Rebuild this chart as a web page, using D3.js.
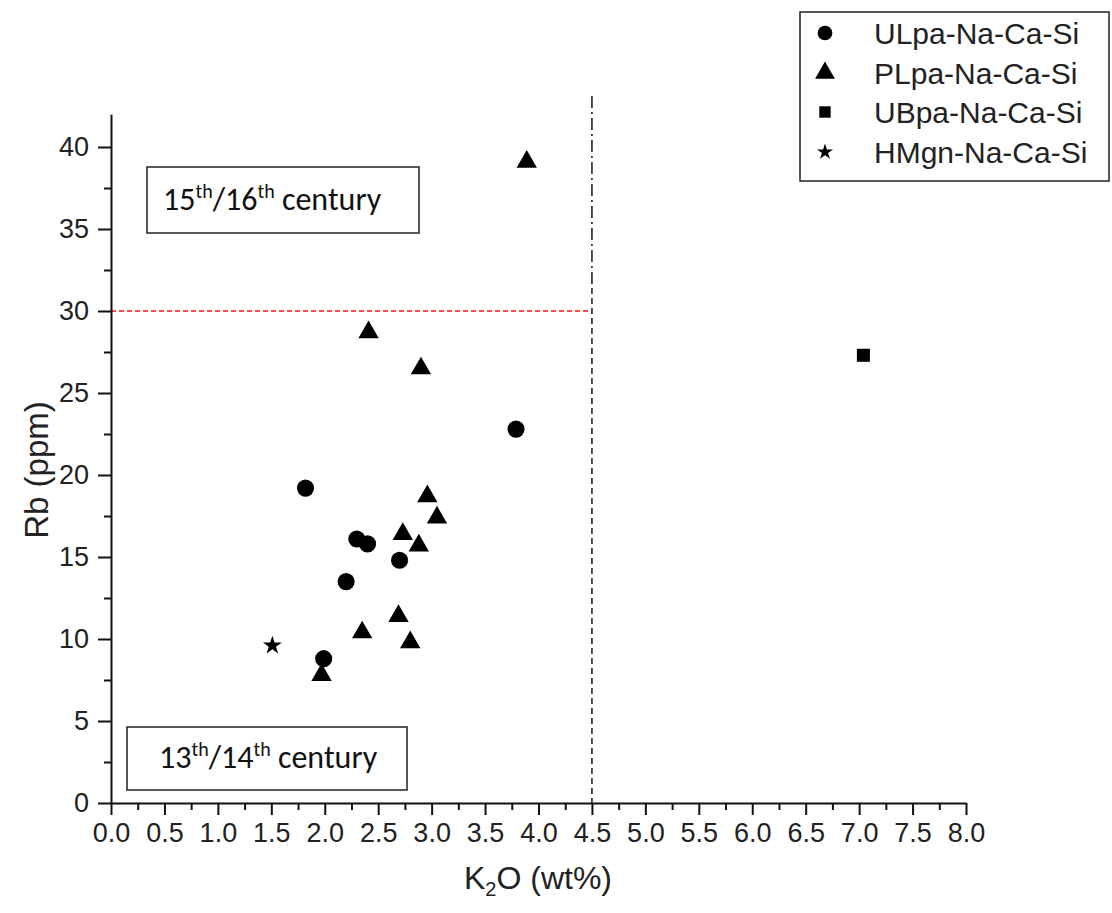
<!DOCTYPE html>
<html>
<head>
<meta charset="utf-8">
<script src="https://cdn.jsdelivr.net/npm/d3@7"></script>
<style>
  html, body { margin: 0; padding: 0; background: #fff; }
  svg { display: block; }
</style>
</head>
<body>
<svg id="chart" width="1112" height="913"></svg>
<script>
// ---- data ----
const ulpa = [[1.82, 19.2], [3.79, 22.8], [2.30, 16.1], [2.40, 15.8], [2.70, 14.8], [2.20, 13.5], [1.99, 8.8]];
const plpa = [[3.89, 39.1], [2.41, 28.7], [2.90, 26.5], [2.96, 18.7], [3.05, 17.4], [2.73, 16.4],
              [2.88, 15.7], [2.69, 11.4], [2.35, 10.4], [2.80, 9.8], [1.97, 7.8]];
const ubpa = [[7.04, 27.3]];
const hmgn = [[1.51, 9.6]];
const seriesNames = ["ULpa-Na-Ca-Si", "PLpa-Na-Ca-Si", "UBpa-Na-Ca-Si", "HMgn-Na-Ca-Si"];
const xTicks = d3.range(0, 8.001, 0.5);
const xMinor = d3.range(0.25, 8, 0.5);
const yTicks = d3.range(0, 40.001, 5);
const yMinor = d3.range(2.5, 41, 5);
const rbThreshold = 30;   // red dashed line
const k2oThreshold = 4.5; // vertical dashed line

const svg = d3.select("#chart");
const x = d3.scaleLinear().domain([0, 8]).range([111, 966]);
const y = d3.scaleLinear().domain([0, 42]).range([803, 803 - 42 * 16.4]);

const font = "'Liberation Sans', Arial, sans-serif";

// threshold lines
svg.append("line")
  .attr("x1", x(0)).attr("x2", x(k2oThreshold) - 2)
  .attr("y1", y(rbThreshold)).attr("y2", y(rbThreshold))
  .attr("stroke", "#f01010").attr("stroke-width", 1.5).attr("stroke-dasharray", "5,3");
svg.append("line")
  .attr("x1", x(k2oThreshold)).attr("x2", x(k2oThreshold))
  .attr("y1", 96).attr("y2", 288)
  .attr("stroke", "#222").attr("stroke-width", 1.6).attr("stroke-dasharray", "12,4,2,4");
svg.append("line")
  .attr("x1", x(k2oThreshold)).attr("x2", x(k2oThreshold))
  .attr("y1", 288).attr("y2", y(0))
  .attr("stroke", "#222").attr("stroke-width", 1.6).attr("stroke-dasharray", "6,4");

// axes
function styleAxis(g) {
  g.selectAll("path, line").attr("stroke", "#111").attr("stroke-width", 2);
  g.selectAll("text").attr("fill", "#222").attr("font-family", font);
}
const gx = svg.append("g").attr("transform", `translate(0,${y(0)})`)
  .call(d3.axisBottom(x).tickValues(xTicks).tickFormat(d3.format(".1f")).tickSize(12).tickSizeOuter(0).tickPadding(8));
styleAxis(gx);
gx.selectAll("text").attr("font-size", 27);
const gxm = svg.append("g").attr("transform", `translate(0,${y(0)})`)
  .call(d3.axisBottom(x).tickValues(xMinor).tickFormat("").tickSize(7).tickSizeOuter(0));
styleAxis(gxm);
gxm.select("path").remove();

const gy = svg.append("g").attr("transform", `translate(${x(0)},0)`)
  .call(d3.axisLeft(y).tickValues(yTicks).tickSize(13).tickSizeOuter(0).tickPadding(9));
styleAxis(gy);
gy.selectAll("text").attr("font-size", 27);
const gym = svg.append("g").attr("transform", `translate(${x(0)},0)`)
  .call(d3.axisLeft(y).tickValues(yMinor).tickFormat("").tickSize(7).tickSizeOuter(0));
styleAxis(gym);
gym.select("path").remove();

// axis titles
const xt = svg.append("text").attr("x", 538).attr("y", 889).attr("text-anchor", "middle")
  .attr("font-family", font).attr("font-size", 32).attr("fill", "#222");
xt.append("tspan").text("K");
xt.append("tspan").attr("font-size", 20).attr("dy", 7).text("2");
xt.append("tspan").attr("dy", -7).text("O (wt%)");

svg.append("text").attr("transform", "translate(48,470) rotate(-90)")
  .attr("text-anchor", "middle").attr("font-family", font).attr("font-size", 33).attr("fill", "#222")
  .text("Rb (ppm)");

// century boxes
const boxFont = "Carlito, Calibri, 'Open Sans', sans-serif";
function centuryBox(bx, by, bw, bh, tx, ty, a, b) {
  svg.append("rect").attr("x", bx).attr("y", by).attr("width", bw).attr("height", bh)
    .attr("fill", "#fff").attr("stroke", "#222").attr("stroke-width", 1.5);
  const t = svg.append("text").attr("x", tx).attr("y", ty).attr("font-family", boxFont)
    .attr("font-size", 32).attr("fill", "#111");
  t.append("tspan").text(a);
  t.append("tspan").attr("font-size", 20).attr("dy", -12).text("th");
  t.append("tspan").attr("dy", 12).text("/" + b);
  t.append("tspan").attr("font-size", 20).attr("dy", -12).text("th");
  t.append("tspan").attr("dy", 12).text(" century");
}
centuryBox(147, 167, 272, 66, 163, 210, "15", "16");
centuryBox(127, 727, 280, 63, 159, 768, "13", "14");

// markers
const symCircle = d3.symbol().type(d3.symbolCircle).size(230);
const symTri = d3.symbol().type(d3.symbolTriangle).size(180);
const symSquare = d3.symbol().type(d3.symbolSquare).size(170);
const symStar = d3.symbol().type(d3.symbolStar).size(110);
function plot(data, sym) {
  svg.append("g").selectAll("path").data(data).join("path")
    .attr("d", sym)
    .attr("transform", d => `translate(${x(d[0])},${y(d[1])})`)
    .attr("fill", "#000");
}
plot(ulpa, symCircle);
plot(plpa, symTri);
plot(ubpa, symSquare);
plot(hmgn, symStar);

// legend
svg.append("rect").attr("x", 800).attr("y", 12).attr("width", 309).attr("height", 169)
  .attr("fill", "#fff").attr("stroke", "#222").attr("stroke-width", 1.5);
const legSyms = [
  d3.symbol().type(d3.symbolCircle).size(170),
  d3.symbol().type(d3.symbolTriangle).size(170),
  d3.symbol().type(d3.symbolSquare).size(130),
  d3.symbol().type(d3.symbolStar).size(80)
];
const rowY = [33, 73, 112, 152];
const leg = svg.append("g").selectAll("g").data(seriesNames).join("g")
  .attr("transform", (d, i) => `translate(0,${rowY[i]})`);
leg.append("path").attr("d", (d, i) => legSyms[i]()).attr("transform", "translate(825,0)").attr("fill", "#000");
leg.append("text").attr("x", 874).attr("y", 11).attr("font-family", font).attr("font-size", 30)
  .attr("fill", "#222").text(d => d);
</script>
</body>
</html>
